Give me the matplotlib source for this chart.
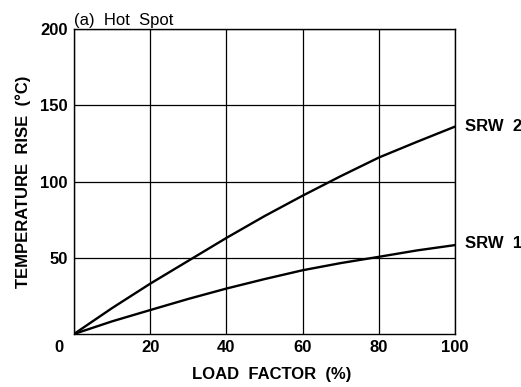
import matplotlib
matplotlib.use("Agg")
import matplotlib.pyplot as plt

load = [0, 10, 20, 30, 40, 50, 60, 70, 80, 90, 100]
srw1 = [0, 8.3, 15.7, 23, 29.8, 36, 41.8, 46.5, 50.6, 54.8, 58.3]
srw2 = [0, 17, 33, 48, 63, 77.3, 90.7, 103.5, 115.7, 126, 136]
xticks = [0, 20, 40, 60, 80, 100]
xticklabels = ['', '20', '40', '60', '80', '100']
yticks = [50, 100, 150, 200]

plt.rcParams['font.family'] = ['Liberation Sans', 'DejaVu Sans']
fig = plt.figure(figsize=(5.21, 3.87), dpi=100)
ax = fig.add_axes([74/521, 1-334/387, (455-74)/521, (334-29)/387])
ax.plot(load, srw2, color='black', lw=1.7)
ax.plot(load, srw1, color='black', lw=1.7)
ax.set_xlim(0, 100)
ax.set_ylim(0, 200)
ax.set_xticks(xticks)
ax.set_xticklabels(xticklabels)
ax.set_yticks(yticks)
ax.grid(True, color='black', lw=0.9)
ax.tick_params(length=0, pad=4.5, labelsize=12)
for lab in ax.get_xticklabels() + ax.get_yticklabels():
    lab.set_fontweight('bold')
for s in ax.spines.values():
    s.set_linewidth(1.0)
# origin label, placed left of the axis corner as in the reference
ax.annotate('0', xy=(0, 0), xycoords='data', xytext=(-11, -4.5),
            textcoords='offset points', ha='center', va='top', fontsize=12,
            fontweight='bold', annotation_clip=False)
ax.set_xlabel('LOAD  FACTOR  (%)', fontsize=12, fontweight='bold')
ax.xaxis.set_label_coords(0.52, -0.108)
ax.set_ylabel('TEMPERATURE  RISE  (°C)', fontsize=12, fontweight='bold', labelpad=6.5)
ax.text(load[-1] + 2.5, srw2[-1], 'SRW  2', fontsize=12, fontweight='bold', va='center', ha='left')
ax.text(load[-1] + 2.5, srw1[-1] + 1, 'SRW  1', fontsize=12, fontweight='bold', va='center', ha='left')
ax.text(0.0, 202.6, '(a)  Hot  Spot', fontsize=12, va='baseline', ha='left')
fig.savefig('out.png', dpi=100)
